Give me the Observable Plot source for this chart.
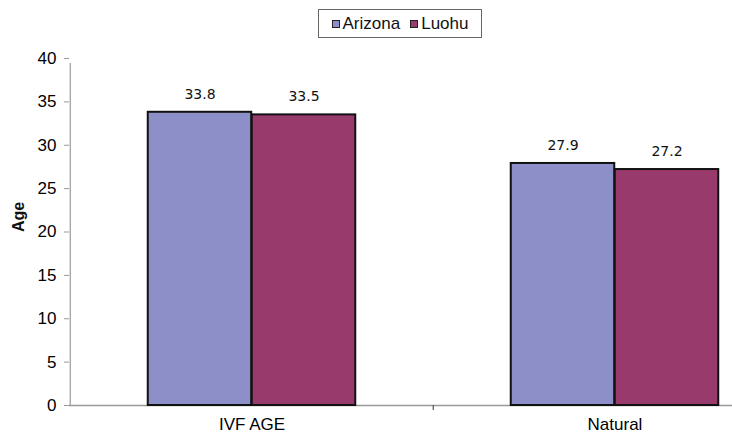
<!DOCTYPE html>
<html>
<head>
<meta charset="utf-8">
<script src="https://cdn.jsdelivr.net/npm/d3@7"></script>
<script src="https://cdn.jsdelivr.net/npm/@observablehq/plot@0.6"></script>
<style>
  html, body { margin: 0; padding: 0; background: #fff; }
  #chart { width: 732px; height: 435px; overflow: hidden; }
  .legend { position: relative; height: 46px; }
  .legend .box {
    position: absolute; left: 318px; top: 9px; width: 162px; height: 27px;
    border: 1px solid #666; box-sizing: content-box;
    display: flex; align-items: center; justify-content: center; gap: 10px;
    font: 17px "Liberation Sans", Arial, sans-serif; color: #111;
  }
  .legend .item { display: flex; align-items: center; gap: 3px; }
  .legend .sw { width: 6px; height: 6px; border: 1.5px solid #222; display: inline-block; }
</style>
</head>
<body>
<div id="chart"></div>
<script>
// Mean age by group, two sites
const categories = ["IVF AGE", "Natural"];
const series = ["Arizona", "Luohu"];
const arizona = [33.8, 27.9];
const luohu = [33.5, 27.2];
const yTicks = [0, 5, 10, 15, 20, 25, 30, 35, 40];
const colors = ["#8d8fc8", "#983a6b"];

const data = categories.flatMap((c, i) => [
  {category: c, series: series[0], value: arizona[i]},
  {category: c, series: series[1], value: luohu[i]}
]);

const width = 732, height = 389;
const marginLeft = 69, marginRight = -64;
const band = (width - marginLeft - marginRight) / categories.length;
const half = band / 2;
const barW = 104;

const legend = document.createElement("div");
legend.className = "legend";
legend.innerHTML = `<div class="box">${series.map((s, i) =>
  `<span class="item"><span class="sw" style="background:${colors[i]}"></span>${s}</span>`).join("")}</div>`;

const plot = Plot.plot({
  width, height,
  marginLeft, marginRight,
  marginTop: 12, marginBottom: 30,
  style: {fontFamily: "'Liberation Sans', Arial, sans-serif", fontSize: "17px", color: "#000", background: "#fff"},
  x: {domain: categories, padding: 0, label: null},
  y: {domain: [0, 40], label: null},
  marks: [
    // axis lines and tick marks at band edges
    Plot.ruleY([0], {stroke: "#999", strokeWidth: 1.5}),
    Plot.ruleX(["IVF AGE"], {x: d => d, y1: 0, y2: 40, dx: -half, insetBottom: -5, stroke: "#999", strokeWidth: 1.2}),
    Plot.ruleX(["Natural"], {x: d => d, y1: 0, y2: 0, dx: -half, insetBottom: -5, stroke: "#555", strokeWidth: 1.2}),
    Plot.axisY({ticks: yTicks, tickSize: 5, tickPadding: 8, stroke: "#999", fontSize: 17, label: null}),
    Plot.axisX({tickSize: 0, tickPadding: 12, fontSize: 17, label: null}),
    // bars
    Plot.barY(data.filter(d => d.series === series[0]), {
      x: "category", y: "value", fill: colors[0], stroke: "#111", strokeWidth: 2,
      insetLeft: half - barW, insetRight: half
    }),
    Plot.barY(data.filter(d => d.series === series[1]), {
      x: "category", y: "value", fill: colors[1], stroke: "#111", strokeWidth: 2,
      insetLeft: half, insetRight: half - barW
    }),
    // value labels
    Plot.text(data.filter(d => d.series === series[0]), {
      x: "category", y: "value", text: d => d.value.toFixed(1), dx: -barW / 2, dy: -18,
      fontFamily: "'DejaVu Sans', Verdana, sans-serif", fontSize: 14, fill: "#111"
    }),
    Plot.text(data.filter(d => d.series === series[1]), {
      x: "category", y: "value", text: d => d.value.toFixed(1), dx: barW / 2, dy: -18,
      fontFamily: "'DejaVu Sans', Verdana, sans-serif", fontSize: 14, fill: "#111"
    }),
    // y axis title
    Plot.text(["Age"], {
      frameAnchor: "left", dx: -51, rotate: -90, text: d => d,
      fontWeight: "bold", fontSize: 16, fill: "#111"
    })
  ]
});

const root = document.getElementById("chart");
root.appendChild(legend);
root.appendChild(plot);
</script>
</body>
</html>
